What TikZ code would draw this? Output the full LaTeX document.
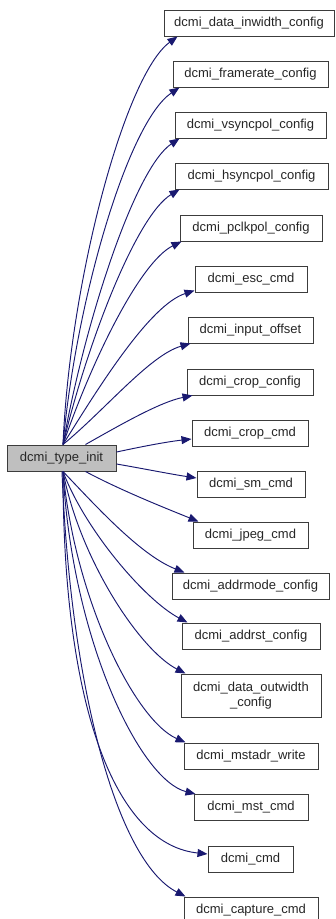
\documentclass[tikz,border=0pt]{standalone}
\usepackage{fontspec}
\setmainfont{Liberation Sans}
\usetikzlibrary{arrows.meta}
\definecolor{edgeblue}{RGB}{25,25,112}
\definecolor{boxline}{RGB}{60,60,60}
\definecolor{srcfill}{RGB}{191,191,191}
\begin{document}
\begin{tikzpicture}[x=1pt,y=1pt,
  fn/.style={draw=boxline, line width=1pt, minimum height=26pt, inner sep=0pt,
     font=\fontsize{13}{15}\selectfont, text=black!85, fill=white},
  src/.style={fn, fill=srcfill},
  edge/.style={draw=edgeblue, line width=0.95pt, -{Triangle[length=10pt,width=8pt]}}]
\useasboundingbox (0,0) rectangle (335,-919);
% nodes
\node[src, minimum width=109pt] (ti) at (61.5,-458) {dcmi\_type\_init};
\node[fn, minimum width=170pt] (n1) at (249,-23) {dcmi\_data\_inwidth\_config};
\node[fn, minimum width=155pt] (n2) at (250.5,-74) {dcmi\_framerate\_config};
\node[fn, minimum width=151pt] (n3) at (250.5,-125) {dcmi\_vsyncpol\_config};
\node[fn, minimum width=153pt] (n4) at (251.5,-176) {dcmi\_hsyncpol\_config};
\node[fn, minimum width=142pt] (n5) at (251,-228) {dcmi\_pclkpol\_config};
\node[fn, minimum width=112pt] (n6) at (251,-279.5) {dcmi\_esc\_cmd};
\node[fn, minimum width=125pt] (n7) at (250.5,-330) {dcmi\_input\_offset};
\node[fn, minimum width=126pt] (n8) at (250,-382) {dcmi\_crop\_config};
\node[fn, minimum width=116pt] (n9) at (250,-433) {dcmi\_crop\_cmd};
\node[fn, minimum width=108pt] (n10) at (251,-484) {dcmi\_sm\_cmd};
\node[fn, minimum width=115pt] (n11) at (250.5,-535) {dcmi\_jpeg\_cmd};
\node[fn, minimum width=157pt] (n12) at (250.5,-586) {dcmi\_addrmode\_config};
\node[fn, minimum width=138pt] (n13) at (251,-636) {dcmi\_addrst\_config};
\node[fn, minimum width=140pt, minimum height=43pt, align=center] (n14) at (251,-695.5) {dcmi\_data\_outwidth\\\_config};
\node[fn, minimum width=134pt] (n15) at (251,-756) {dcmi\_mstadr\_write};
\node[fn, minimum width=114pt] (n16) at (251,-807.5) {dcmi\_mst\_cmd};
\node[fn, minimum width=85pt] (n17) at (250.5,-859) {dcmi\_cmd};
\node[fn, minimum width=134pt] (n18) at (251,-910) {dcmi\_capture\_cmd};
% edges (upper)
\draw[edge] ([xshift=1.5pt]ti.north) .. controls (70,-280) and (125,-75) .. ([xshift=14pt]n1.south west);
\draw[edge] ([xshift=1.5pt]ti.north) .. controls (76,-300) and (128,-122) .. ([xshift=7pt]n2.south west);
\draw[edge] ([xshift=1.5pt]ti.north) .. controls (85,-321) and (135,-168) .. ([xshift=5pt]n3.south west);
\draw[edge] ([xshift=1.5pt]ti.north) .. controls (88,-340) and (137,-215) .. ([xshift=5pt]n4.south west);
\draw[edge] ([xshift=1.5pt]ti.north) .. controls (92,-360) and (140,-262) .. ([xshift=2pt]n5.south west);
\draw[edge] ([xshift=1.5pt]ti.north) .. controls (100,-385) and (150,-305) .. ([yshift=2.5pt]n6.south west);
\draw[edge] ([xshift=1.5pt]ti.north) .. controls (105,-410) and (150,-355) .. ([xshift=3pt]n7.south west);
\draw[edge] ([xshift=24pt]ti.north) .. controls (120,-425) and (160,-402) .. ([xshift=6pt]n8.south west);
\draw[edge] ([yshift=6pt]ti.east) .. controls (140,-447) and (165,-442) .. ([yshift=-6pt]n9.west);
% edges (lower)
\draw[edge] ([yshift=-6pt]ti.east) .. controls (140,-468) and (170,-474) .. ([yshift=6pt]n10.west);
\draw[edge] ([xshift=24pt]ti.south) .. controls (120,-490) and (165,-508) .. ([xshift=6pt]n11.north west);
\draw[edge] ([xshift=1.5pt]ti.south) .. controls (95,-505) and (140,-555) .. ([xshift=13pt]n12.north west);
\draw[edge] ([xshift=1.5pt]ti.south) .. controls (85,-530) and (145,-600) .. ([xshift=6pt]n13.north west);
\draw[edge] ([xshift=1.5pt]ti.south) .. controls (80,-560) and (140,-650) .. ([xshift=5pt]n14.north west);
\draw[edge] ([xshift=1.5pt]ti.south) .. controls (75,-600) and (135,-720) .. ([xshift=2pt]n15.north west);
\draw[edge] ([xshift=1.5pt]ti.south) .. controls (72,-640) and (140,-780) .. ([xshift=2pt]n16.north west);
\draw[edge] ([xshift=1.5pt]ti.south) .. controls (63,-720) and (120,-845) .. ([yshift=5pt]n17.west);
\draw[edge] ([xshift=0.5pt]ti.south) .. controls (70,-680) and (115,-860) .. ([xshift=2pt]n18.north west);
\end{tikzpicture}
\end{document}
